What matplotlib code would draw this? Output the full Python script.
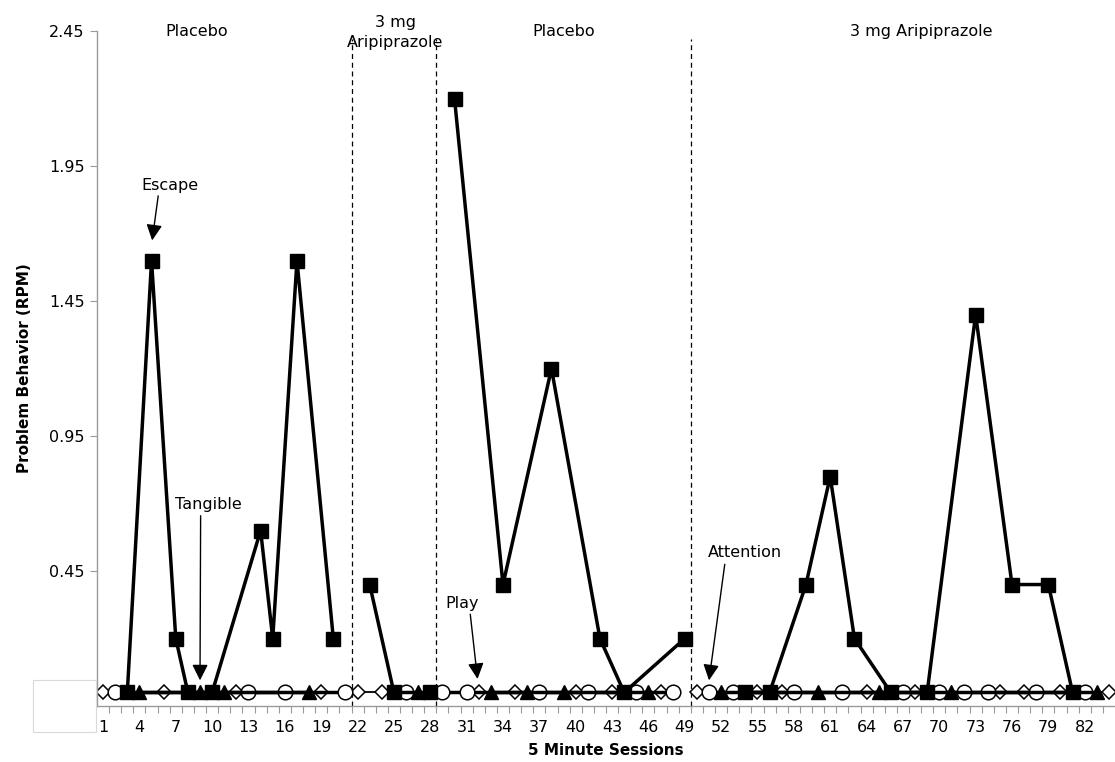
import matplotlib
matplotlib.use("Agg")
import matplotlib.pyplot as plt
import matplotlib.patches as mpatches
import numpy as np

# ---------------- data ----------------
sessions = list(range(1, 85))
# condition per session: S=Escape, T=Tangible, D=Play, C=Attention
conditions = list(
    "DCSTSDSSTSTDCSSCSTDSC"      # 1-21 placebo
    "DSDSCTS"                    # 22-28 3 mg
    "CSCDTSDTCSTDCSDSCTDCS"      # 29-49 placebo
    "DCTCSDSDCSTSCSDTSCDSCTCSCDSDCSDSCTD"  # 50-84 3 mg
)
escape_values = {3: 0.0, 5: 1.6, 7: 0.2, 8: 0.0, 10: 0.0, 14: 0.6, 15: 0.2, 17: 1.6, 20: 0.2,
                 23: 0.4, 25: 0.0, 28: 0.0,
                 30: 2.2, 34: 0.4, 38: 1.2, 42: 0.2, 44: 0.0, 49: 0.2,
                 54: 0.0, 56: 0.0, 59: 0.4, 61: 0.8, 63: 0.2, 66: 0.0, 69: 0.0,
                 73: 1.4, 76: 0.4, 79: 0.4, 81: 0.0}
phase_bounds = [1, 22, 29, 50, 85]   # phase start sessions
phase_labels = ["Placebo", "3 mg\nAripiprazole", "Placebo", "3 mg Aripiprazole"]
xtick_labels = [str(v) for v in range(1, 85, 3)]
ytick_values = [0.45, 0.95, 1.45, 1.95, 2.45]

# ---------------- figure ----------------
fig = plt.figure(figsize=(11.15, 7.62), dpi=100)
ax = fig.add_axes([0.087, 0.0735, 0.913, 0.8855])
ax.set_xlim(0.5, 84.5)
ax.set_ylim(-0.05, 2.45)

def value(s, c):
    return escape_values[s] if c == "S" else 0.0

styles = {
    "D": dict(marker="D", ms=7.5, mfc="white", mec="black", mew=1.1, lw=1.3),
    "C": dict(marker="o", ms=10.5, mfc="white", mec="black", mew=1.1, lw=2.5),
    "T": dict(marker="^", ms=10, mfc="black", mec="black", mew=1, lw=2.5),
    "S": dict(marker="s", ms=9.5, mfc="black", mec="black", mew=1, lw=2.5),
}
order = ["D", "C", "T", "S"]
for z, c in enumerate(order):
    xs, ys = [], []
    for p in range(len(phase_bounds) - 1):
        for s in range(phase_bounds[p], phase_bounds[p + 1]):
            if conditions[s - 1] == c:
                xs.append(s)
                ys.append(value(s, c))
        xs.append(np.nan)
        ys.append(np.nan)
    st = styles[c]
    ax.plot(xs, ys, color="black", linestyle="-", lw=st["lw"], zorder=2 + z,
            marker=st["marker"], markersize=st["ms"], markerfacecolor=st["mfc"],
            markeredgecolor=st["mec"], markeredgewidth=st["mew"], clip_on=False)

# phase change lines
for b in phase_bounds[1:-1]:
    ax.plot([b - 0.5, b - 0.5], [-0.05, 2.42], color="black", lw=0.9,
            linestyle=(0, (4, 3)), zorder=1)

# phase labels
label_x = [8.7, 25.1, 39.0, 68.5]
label_y = [2.45, 2.445, 2.45, 2.45]
for lx, ly, t in zip(label_x, label_y, phase_labels):
    ax.text(lx, ly, t, ha="center", va="center", fontsize=11.5, linespacing=1.45)

# annotations
arrow = dict(arrowstyle="-|>", color="black", lw=1, mutation_scale=24, shrinkA=0, shrinkB=0)
ax.annotate("", xy=(5.05, 1.675), xytext=(5.55, 1.84), arrowprops=arrow)
ax.text(6.5, 1.88, "Escape", ha="center", va="center", fontsize=11.5)
ax.annotate("", xy=(9.0, 0.045), xytext=(9.05, 0.655), arrowprops=arrow)
ax.text(9.7, 0.695, "Tangible", ha="center", va="center", fontsize=11.5)
ax.annotate("", xy=(31.9, 0.05), xytext=(31.3, 0.29), arrowprops=arrow)
ax.text(30.6, 0.33, "Play", ha="center", va="center", fontsize=11.5)
ax.annotate("", xy=(51.0, 0.045), xytext=(52.3, 0.475), arrowprops=arrow)
ax.text(54.0, 0.518, "Attention", ha="center", va="center", fontsize=11.5)

# axes styling
for side in ["top", "right"]:
    ax.spines[side].set_visible(False)
for side in ["left", "bottom"]:
    ax.spines[side].set_color("#9a9a9a")
    ax.spines[side].set_linewidth(1)

ax.set_yticks([-0.05] + ytick_values)
ax.set_yticklabels([""] + [f"{v:.2f}" for v in ytick_values], fontsize=11.5)
ax.tick_params(axis="y", direction="out", length=5, color="#9a9a9a", pad=4)

ax.set_xticks(np.arange(1.5, 84.5, 1.0))
ax.set_xticklabels([])
ax.tick_params(axis="x", which="major", direction="out", length=5, color="#9a9a9a")
ax.set_xticks(np.arange(1, 85, 3), minor=True)
ax.set_xticklabels(xtick_labels, minor=True, fontsize=11.5)
ax.tick_params(axis="x", which="minor", length=0, pad=10)

ax.set_xlabel("5 Minute Sessions", fontsize=11, fontweight="bold", labelpad=6)
ax.set_ylabel("Problem Behavior (RPM)", fontsize=11, fontweight="bold", labelpad=12)

# blank box covering lower-left label area
rect = mpatches.Rectangle((33 / 1115, 1 - 732 / 762), 63 / 1115, 52 / 762,
                          transform=fig.transFigure, facecolor="white",
                          edgecolor="#d9d9d9", lw=0.8, zorder=10)
fig.add_artist(rect)

fig.savefig("out.png", dpi=100)
